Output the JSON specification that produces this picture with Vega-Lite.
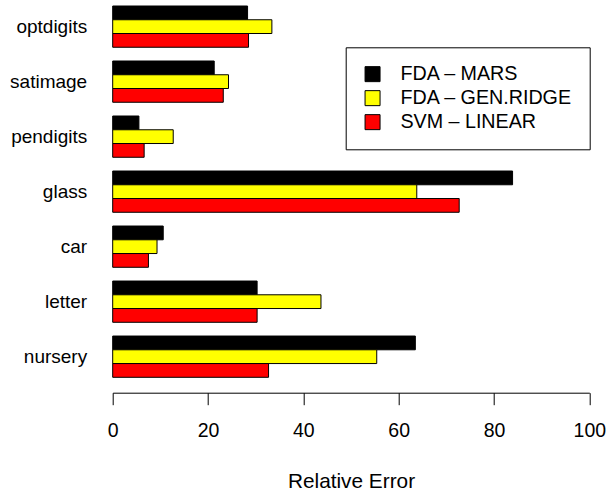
{
  "$schema": "https://vega.github.io/schema/vega-lite/v6.json",
  "autosize": "none",
  "width": 476.6,
  "height": 371.3,
  "padding": {"left": 112.7, "top": 6, "right": 17.7, "bottom": 113.7},
  "config": {
    "view": {"stroke": null},
    "font": "Liberation Sans"
  },
  "data": {
    "values": [
      {"dataset": "optdigits", "method": "FDA – MARS", "error": 28.3},
      {"dataset": "optdigits", "method": "FDA – GEN.RIDGE", "error": 33.4},
      {"dataset": "optdigits", "method": "SVM – LINEAR", "error": 28.5},
      {"dataset": "satimage", "method": "FDA – MARS", "error": 21.3},
      {"dataset": "satimage", "method": "FDA – GEN.RIDGE", "error": 24.3},
      {"dataset": "satimage", "method": "SVM – LINEAR", "error": 23.2},
      {"dataset": "pendigits", "method": "FDA – MARS", "error": 5.5},
      {"dataset": "pendigits", "method": "FDA – GEN.RIDGE", "error": 12.7},
      {"dataset": "pendigits", "method": "SVM – LINEAR", "error": 6.6},
      {"dataset": "glass", "method": "FDA – MARS", "error": 83.9},
      {"dataset": "glass", "method": "FDA – GEN.RIDGE", "error": 63.8},
      {"dataset": "glass", "method": "SVM – LINEAR", "error": 72.7},
      {"dataset": "car", "method": "FDA – MARS", "error": 10.6},
      {"dataset": "car", "method": "FDA – GEN.RIDGE", "error": 9.3},
      {"dataset": "car", "method": "SVM – LINEAR", "error": 7.5},
      {"dataset": "letter", "method": "FDA – MARS", "error": 30.3},
      {"dataset": "letter", "method": "FDA – GEN.RIDGE", "error": 43.7},
      {"dataset": "letter", "method": "SVM – LINEAR", "error": 30.3},
      {"dataset": "nursery", "method": "FDA – MARS", "error": 63.5},
      {"dataset": "nursery", "method": "FDA – GEN.RIDGE", "error": 55.4},
      {"dataset": "nursery", "method": "SVM – LINEAR", "error": 32.7}
    ]
  },
  "mark": {"type": "bar", "stroke": "black", "strokeWidth": 1},
  "encoding": {
    "y": {
      "field": "dataset",
      "type": "nominal",
      "sort": ["optdigits", "satimage", "pendigits", "glass", "car", "letter", "nursery"],
      "scale": {"paddingInner": 0.25, "paddingOuter": 0},
      "axis": {
        "title": null,
        "ticks": false,
        "domain": false,
        "labelFontSize": 19,
        "labelColor": "black",
        "labelPadding": 26
      }
    },
    "yOffset": {
      "field": "method",
      "type": "nominal",
      "sort": ["FDA – MARS", "FDA – GEN.RIDGE", "SVM – LINEAR"],
      "scale": {"paddingInner": 0, "paddingOuter": 0}
    },
    "x": {
      "field": "error",
      "type": "quantitative",
      "scale": {"domain": [0, 100], "nice": false},
      "axis": {
        "title": "Relative Error",
        "values": [0, 20, 40, 60, 80, 100],
        "grid": false,
        "offset": 15.4,
        "tickSize": 12,
        "tickColor": "black",
        "domainColor": "black",
        "labelFlush": false,
        "labelFontSize": 19.5,
        "labelColor": "black",
        "labelPadding": 17,
        "titleFontSize": 20.8,
        "titleFontWeight": "normal",
        "titleColor": "black",
        "titlePadding": 31
      }
    },
    "color": {
      "field": "method",
      "type": "nominal",
      "scale": {
        "domain": ["FDA – MARS", "FDA – GEN.RIDGE", "SVM – LINEAR"],
        "range": ["black", "yellow", "red"]
      },
      "legend": {
        "title": null,
        "orient": "none",
        "legendX": 233,
        "legendY": 41.3,
        "strokeColor": "black",
        "padding": 17,
        "symbolType": "square",
        "symbolSize": 225,
        "symbolStrokeColor": "black",
        "symbolStrokeWidth": 1,
        "labelFontSize": 19.7,
        "labelColor": "black",
        "labelOffset": 18,
        "labelLimit": 400,
        "rowPadding": 3
      }
    }
  }
}
